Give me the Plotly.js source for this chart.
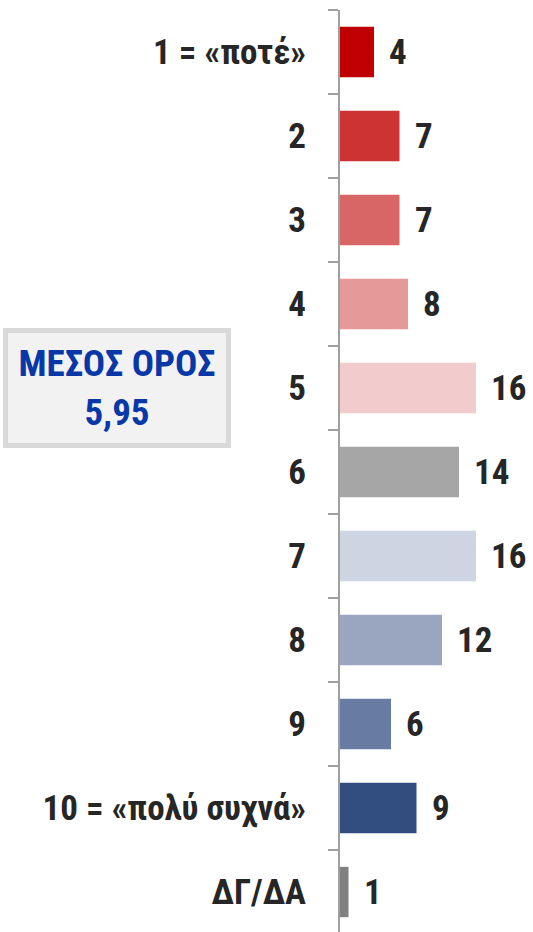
<!DOCTYPE html>
<html>
<head>
<meta charset="utf-8">
<script src="https://cdn.plot.ly/plotly-3.0.1.min.js"></script>
<style>html,body{margin:0;padding:0;background:#fff;}#chart{width:533px;height:932px;}</style>
</head>
<body>
<div id="chart"></div>
<script>
const categories = ["1 = «ποτέ»", "2", "3", "4", "5", "6", "7", "8", "9", "10 = «πολύ συχνά»", "ΔΓ/ΔΑ"];
const values = [4, 7, 7, 8, 16, 14, 16, 12, 6, 9, 1];
const barColors = ["#c00000", "#cc3333", "#d96666", "#e69999", "#f2cccc", "#a6a6a6", "#ced4e2", "#9aa6c0", "#677ba3", "#324e80", "#808080"];
const meanLabel = "ΜΕΣΟΣ ΟΡΟΣ";
const meanValue = "5,95";

const FONT = '"Liberation Sans Narrow", "Arial Narrow", "Roboto Condensed", "Liberation Sans", Arial, sans-serif';

const trace = {
  type: 'bar',
  orientation: 'h',
  y: categories,
  x: values,
  marker: {color: barColors, line: {width: 0}},
  hoverinfo: 'none',
  textposition: 'none'
};

const valueAnnotations = categories.map((c, i) => ({
  x: values[i], y: i, xref: 'x', yref: 'y',
  text: String(values[i]),
  showarrow: false, xanchor: 'left', yanchor: 'middle', xshift: 13,
  font: {family: FONT, size: 35, color: '#262626', weight: 'bold'}
}));

const boxAnnotation = {
  xref: 'paper', yref: 'paper',
  x: (117 - 340) / 193, y: 1 - (388 - 10) / 922,
  xanchor: 'center', yanchor: 'middle',
  text: meanLabel + '<br>' + meanValue,
  showarrow: false,
  width: 218, height: 110,
  bgcolor: '#f2f2f2', bordercolor: '#d9d9d9', borderwidth: 5, borderpad: 0,
  font: {family: FONT, size: 37, color: '#0838a8', weight: 'bold'}
};

const layout = {
  width: 533, height: 932,
  margin: {l: 340, r: 0, t: 10, b: 0, pad: 0},
  paper_bgcolor: '#ffffff', plot_bgcolor: '#ffffff',
  showlegend: false,
  bargap: 0.4,
  xaxis: {range: [0, 193 / 8.5], visible: false, fixedrange: true},
  yaxis: {
    type: 'category', categoryorder: 'array', categoryarray: categories,
    range: [10.476, -0.5],
    showline: true, linecolor: '#a0a0a0', linewidth: 2,
    ticks: 'outside', tickson: 'boundaries', ticklen: 10, tickwidth: 2, tickcolor: '#a0a0a0',
    ticklabelstandoff: 25,
    showgrid: false, zeroline: false,
    tickfont: {family: FONT, size: 35, color: '#262626', weight: 'bold'},
    fixedrange: true
  },
  annotations: valueAnnotations.concat([boxAnnotation])
};

Plotly.newPlot('chart', [trace], layout, {displayModeBar: false, staticPlot: true});
</script>
</body>
</html>
